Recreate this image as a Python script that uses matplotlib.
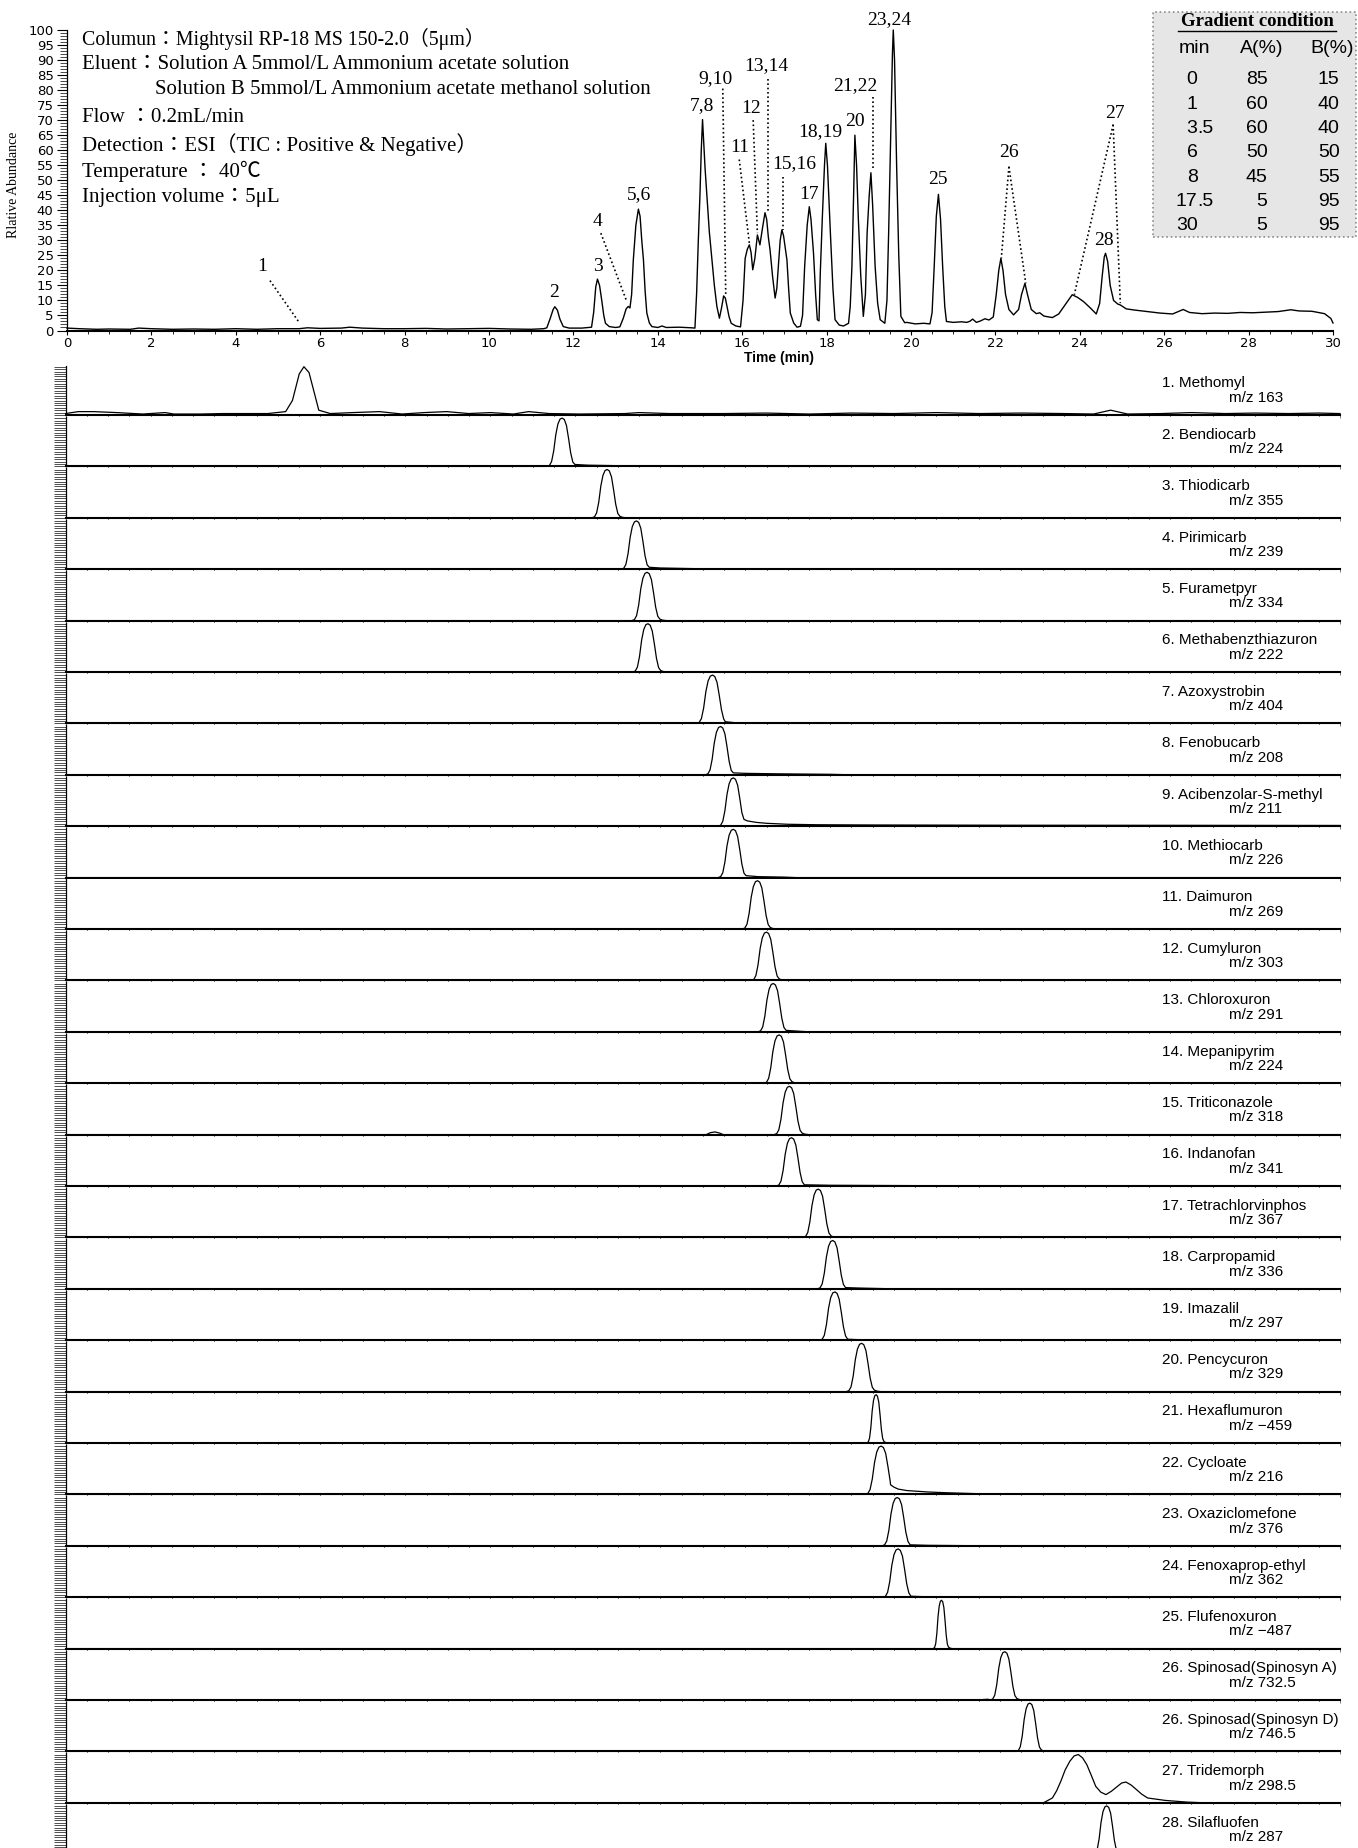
"""
LC/MS chromatogram of pesticides: TIC on top, single-ion traces below
"""
import numpy as np
import matplotlib.pyplot as plt
from matplotlib.patches import Rectangle
from matplotlib.lines import Line2D

W, H = 1358, 1848
SERIF = ['Liberation Serif', 'Noto Sans CJK JP']
SANS = ['Liberation Sans', 'Noto Sans CJK JP']

# ---- TIC trace (time min, relative abundance %)
tic_t = [0.0, 0.3, 0.7, 1.0, 1.5, 1.7, 2.0, 2.5, 3.0, 3.5, 4.0, 4.5, 5.0, 5.5, 5.7, 6.0,
         6.5, 6.7, 7.0, 7.5, 8.0, 8.5, 9.0, 9.5, 10.0, 10.5, 11.0, 11.3,
         11.37, 11.45, 11.52, 11.56, 11.62, 11.68, 11.76, 11.9, 12.2,
         12.43, 12.48, 12.53, 12.57, 12.62, 12.67, 12.72, 12.76, 12.85, 13.0,
         13.1, 13.18, 13.25, 13.30, 13.34, 13.38, 13.42, 13.48, 13.54, 13.58, 13.62,
         13.66, 13.70, 13.74, 13.80, 13.86, 14.0, 14.1, 14.2, 14.5, 14.8,
         14.88, 14.92, 14.96, 15.0, 15.03, 15.06, 15.09, 15.12, 15.16, 15.22, 15.28,
         15.34, 15.40, 15.46, 15.51, 15.56, 15.60, 15.64, 15.69, 15.74, 15.85, 15.96,
         16.02, 16.07, 16.12, 16.17, 16.21, 16.25, 16.30, 16.36, 16.42, 16.48, 16.54,
         16.58, 16.62, 16.66, 16.72, 16.78, 16.82, 16.86, 16.90, 16.94, 16.98, 17.02,
         17.06, 17.10, 17.14, 17.22, 17.30, 17.38, 17.43, 17.48, 17.54, 17.59, 17.63,
         17.69, 17.74, 17.78, 17.82, 17.85, 17.90, 17.95, 17.98, 18.02, 18.09, 18.15,
         18.20, 18.30, 18.40, 18.52, 18.56, 18.60, 18.64, 18.67, 18.71, 18.75, 18.81,
         18.87, 18.92, 18.96, 19.01, 19.05, 19.09, 19.15, 19.21, 19.27, 19.38, 19.43,
         19.47, 19.52, 19.56, 19.58, 19.61, 19.66, 19.71, 19.76, 19.85, 19.90, 20.1,
         20.3, 20.45, 20.50, 20.55, 20.60, 20.65, 20.70, 20.75, 20.80, 20.84, 21.0,
         21.2, 21.32, 21.40, 21.46, 21.55, 21.65, 21.75, 21.85, 21.95, 22.02, 22.08,
         22.13, 22.18, 22.24, 22.32, 22.43, 22.55, 22.62, 22.70, 22.76, 22.85, 22.97,
         23.05, 23.15, 23.35, 23.5, 23.65, 23.82, 23.95, 24.09, 24.25, 24.39, 24.47,
         24.53, 24.58, 24.61, 24.66, 24.72, 24.80, 24.90, 24.96, 25.1, 25.3, 25.6,
         25.9, 26.2, 26.45, 26.6, 26.9, 27.2, 27.5, 27.8, 28.1, 28.4, 28.7, 29.0,
         29.2, 29.5, 29.8, 29.95, 30.0]
tic_v = [0.8, 0.6, 0.4, 0.5, 0.4, 0.8, 0.6, 0.4, 0.5, 0.4, 0.6, 0.4, 0.6, 0.6, 0.9, 0.7,
         0.8, 1.1, 0.8, 0.6, 0.6, 0.7, 0.5, 0.6, 0.7, 0.5, 0.4, 0.6,
         0.9, 4.0, 7.0, 7.9, 6.8, 3.8, 1.3, 0.8, 0.8,
         1.1, 6.0, 14.5, 17.1, 15.0, 10.2, 5.0, 2.4, 1.3, 1.0,
         1.2, 4.0, 7.2, 8.0, 7.5, 12.0, 23.5, 35.0, 40.4, 38.0, 30.0,
         23.5, 13.0, 5.8, 2.5, 1.3, 1.0, 1.5, 1.0, 1.1, 0.9,
         0.8, 12.4, 30.0, 45.6, 60.0, 70.2, 62.0, 54.0, 45.6, 33.0, 24.0,
         15.0, 8.0, 4.1, 7.5, 11.5, 10.8, 8.0, 4.5, 2.4, 1.5, 1.2,
         10.0, 24.0, 27.0, 28.5, 26.0, 20.2, 24.0, 31.8, 28.5, 34.0, 39.2,
         37.0, 31.0, 26.8, 18.0, 10.8, 14.0, 22.0, 30.0, 33.5, 31.5, 27.5,
         23.5, 14.0, 5.8, 2.5, 1.1, 1.4, 5.0, 21.3, 35.0, 41.2, 37.0,
         25.7, 12.0, 3.6, 3.2, 19.0, 38.0, 55.0, 62.3, 55.0, 32.4, 14.0,
         3.6, 1.8, 1.5, 2.4, 8.0, 21.3, 45.0, 65.0, 55.0, 37.9, 18.0,
         4.7, 12.0, 32.4, 45.0, 52.5, 42.0, 21.3, 9.0, 3.6, 2.4, 10.0,
         32.4, 65.0, 92.0, 100.0, 90.0, 54.5, 25.0, 4.7, 2.6, 2.7, 2.2,
         2.4, 2.2, 6.0, 21.3, 38.0, 45.3, 37.0, 21.3, 8.0, 3.0, 2.7,
         2.9, 2.7, 3.1, 3.8, 2.7, 3.2, 3.9, 3.5, 4.5, 12.0, 20.0,
         24.0, 20.0, 12.0, 7.0, 5.2, 7.0, 12.0, 15.7, 12.0, 7.0, 5.6,
         5.9, 4.8, 4.3, 5.5, 8.5, 11.9, 11.0, 9.6, 7.5, 5.5, 9.0,
         18.0, 24.5, 25.7, 23.0, 15.0, 10.0, 8.8, 8.5, 7.2, 6.8, 6.3,
         5.8, 5.5, 7.0, 6.0, 5.6, 5.8, 5.7, 6.0, 5.9, 6.1, 6.3, 6.9,
         6.5, 6.4, 5.6, 4.0, 2.5]

# peak labels on the TIC: text, time, abundance
peak_labels = ["1", "2", "3", "4", "5,6", "7,8", "9,10", "11", "12", "13,14",
               "15,16", "17", "18,19", "20", "21,22", "23,24", "25", "26", "27", "28"]
peak_label_t = [4.63, 11.55, 12.57, 12.57, 13.56, 15.04, 15.36, 15.93, 16.22, 16.58,
                17.23, 17.58, 17.84, 18.67, 18.67, 19.49, 20.63, 22.32, 24.83, 24.57]
peak_label_v = [21.3, 12.6, 21.3, 36.2, 45.1, 75.0, 83.8, 60.9, 73.9, 88.3,
                55.6, 45.1, 66.1, 69.4, 81.6, 103.6, 50.3, 59.3, 72.2, 29.9]

# dotted leader lines (t0, v0, t1, v1)
leaders = [(4.81, 16.6, 5.5, 2.7), (12.65, 32.4, 13.25, 10.2), (15.54, 80.5, 15.61, 11.9),
           (15.93, 56.9, 16.17, 29.0), (16.26, 70.0, 16.36, 32.4), (16.60, 83.8, 16.60, 39.5),
           (16.96, 51.2, 16.96, 33.5), (19.11, 77.7, 19.11, 54.0),
           (22.32, 54.5, 22.14, 24.0), (22.32, 54.5, 22.72, 15.7),
           (24.79, 68.5, 23.87, 11.9), (24.79, 68.5, 24.96, 9.1)]

info_lines = ["Columun：Mightysil RP-18 MS 150-2.0（5μm）",
              "Eluent：Solution A 5mmol/L Ammonium acetate solution",
              "Solution B 5mmol/L Ammonium acetate methanol solution",
              "Flow ：0.2mL/min",
              "Detection：ESI（TIC : Positive & Negative）",
              "Temperature ： 40℃",
              "Injection volume：5μL"]
info_x = [82, 82, 155, 82, 82, 82, 82]
info_y = [38.5, 64.5, 89.5, 117, 144.5, 171, 197.5]
info_size = [14.3, 15, 15, 15, 15, 15, 15]

grad_min = ["0", "1", "3.5", "6", "8", "17.5", "30"]
grad_a = ["85", "60", "60", "50", "45", "5", "5"]
grad_b = ["15", "40", "40", "50", "55", "95", "95"]

# ---- single ion traces
names = ["1. Methomyl", "2. Bendiocarb", "3. Thiodicarb", "4. Pirimicarb", "5. Furametpyr",
         "6. Methabenzthiazuron", "7. Azoxystrobin", "8. Fenobucarb",
         "9. Acibenzolar-S-methyl", "10. Methiocarb", "11. Daimuron", "12. Cumyluron",
         "13. Chloroxuron", "14. Mepanipyrim", "15. Triticonazole", "16. Indanofan",
         "17. Tetrachlorvinphos", "18. Carpropamid", "19. Imazalil", "20. Pencycuron",
         "21. Hexaflumuron", "22. Cycloate", "23. Oxaziclomefone", "24. Fenoxaprop-ethyl",
         "25. Flufenoxuron", "26. Spinosad(Spinosyn A)", "26. Spinosad(Spinosyn D)",
         "27. Tridemorph", "28. Silafluofen"]
mz = ["163", "224", "355", "239", "334", "222", "404", "208", "211", "226", "269", "303",
      "291", "224", "318", "341", "367", "336", "297", "329", "\u2212459", "216", "376",
      "362", "\u2212487", "732.5", "746.5", "298.5", "287"]
rt = [5.61, 11.69, 12.75, 13.44, 13.69, 13.71, 15.23, 15.42, 15.72, 15.72, 16.29, 16.50,
      16.66, 16.80, 17.04, 17.09, 17.72, 18.06, 18.11, 18.74, 19.08, 19.20, 19.58, 19.60,
      20.62, 22.11, 22.70, 23.84, 24.51]
width = [1.0, 1.0, 1.0, 1.0, 1.0, 1.0, 1.05, 1.0, 1.0, 1.0, 1.0, 1.0,
         1.0, 1.0, 1.0, 1.0, 1.0, 1.0, 1.0, 1.0, 0.62, 1.05, 1.0, 1.0,
         0.55, 0.95, 0.9, 1.0, 0.9]

# traced peak shape (offset from apex in min, % of apex)
profile_dt = [-0.36, -0.30, -0.25, -0.20, -0.15, -0.10, -0.05, 0.0, 0.05, 0.10, 0.15,
              0.20, 0.25, 0.30, 0.36, 0.45]
profile_y = [0, 2, 10, 32, 66, 88, 98, 100, 97, 85, 58, 28, 9, 3, 1, 0]

# extra features (tails, small side bumps) per trace index
extras = {
    1: [(11.99, 4), (12.3, 2.5), (13.0, 1.5), (13.9, 1), (14.4, 0)],
    3: [(13.74, 4), (14.0, 2.5), (14.6, 1.5), (15.2, 0.5), (15.6, 0)],
    6: [(15.53, 3.5), (15.75, 1.5), (16.0, 0)],
    7: [(15.72, 4), (16.0, 3), (16.8, 2), (18.0, 1), (18.5, 0)],
    8: [(15.97, 14), (16.05, 11), (16.25, 8), (16.5, 6), (17.0, 4), (17.7, 3),
        (19.0, 2.5), (22.0, 2), (26.0, 1.8), (30.0, 1.5)],
    9: [(16.02, 4), (16.3, 2), (16.9, 1), (17.2, 0)],
    12: [(16.96, 3), (17.3, 1), (17.5, 0)],
    14: [(15.08, 0), (15.18, 4), (15.29, 5.5), (15.4, 3), (15.48, 0)],
    15: [(17.39, 2.5), (18.0, 1.5), (20.7, 0.5), (21.0, 0)],
    17: [(18.36, 2.5), (18.7, 1.5), (19.2, 0.5), (19.5, 0)],
    18: [(18.41, 2), (18.7, 1), (19.0, 0)],
    21: [(19.42, 20), (19.5, 15), (19.6, 11), (19.8, 8), (19.96, 7), (20.3, 5),
         (20.74, 3.4), (21.5, 1.4), (22.3, 0.5), (23.0, 0)],
    22: [(19.88, 2), (20.3, 1), (21.0, 0.5), (21.5, 0)],
    23: [(19.9, 2), (20.3, 0.8), (20.6, 0)],
    25: [(21.45, 0), (21.6, 1.0), (21.72, 1.5)],
}

methomyl_t = [0.0, 0.3, 0.66, 1.2, 1.82, 2.34, 2.55, 3.18, 3.7, 4.24, 4.76, 5.18, 5.34, 5.5,
              5.61, 5.73, 5.86, 5.96, 6.23, 6.76, 7.39, 7.92, 8.44, 8.97, 9.49, 10.0, 10.54,
              10.9, 11.38, 12.1, 13.17, 13.5, 14.2, 14.9, 15.5, 16.5, 17.5, 18.5, 19.5, 20.5,
              21.5, 22.5, 23.5, 24.2, 24.45, 24.6, 24.8, 25.0, 25.8, 26.5, 27.3, 28.0, 28.8,
              29.5, 30.0]
methomyl_y = [3, 7, 7, 5, 2, 5, 2, 2, 3, 3, 3, 7, 30, 85, 100, 88, 44, 10, 3, 5, 7, 2, 5, 7,
              3, 5, 2, 7, 3, 2, 3, 5, 3, 3, 3, 4, 2, 4, 3, 5, 3, 4, 3, 2, 7, 10, 6, 2, 3, 5,
              3, 4, 3, 4, 3]

tridemorph_t = [0.0, 23.02, 23.23, 23.33, 23.43, 23.53, 23.64, 23.74, 23.84, 23.94, 24.04,
                24.14, 24.25, 24.37, 24.49, 24.62, 24.76, 24.86, 24.96, 25.08, 25.2, 25.33,
                25.47, 25.88, 26.39, 26.8, 30.0]
tridemorph_y = [0, 0, 10, 25, 45, 68, 86, 97, 100, 93, 79, 58, 34, 22, 17, 24, 34, 41, 43,
                37, 28, 18, 10, 5, 1.5, 0, 0]


def fx(px):
    return px / W


def fy(py):
    return 1 - py / H


def trace(i):
    if i == 0:
        return methomyl_t, methomyl_y
    if i == 27:
        return tridemorph_t, tridemorph_y
    pts = [(rt[i] + width[i] * d, y) for d, y in zip(profile_dt, profile_y)]
    ext = extras.get(i, [])
    pre = [p for p in ext if p[0] < rt[i]]
    post = [p for p in ext if p[0] > rt[i]]
    if pre:
        pts = [p for p in pts if p[0] > pre[-1][0]]
    if post:
        pts = [p for p in pts if p[0] < post[0][0]]
    pts = sorted(pre + pts + post)
    if pts[0][0] > 0:
        pts = [(0.0, 0)] + pts
    if pts[-1][0] < 30:
        pts = pts + [(30.0, 0)]
    return [p[0] for p in pts], [p[1] for p in pts]


fig = plt.figure(figsize=(W / 100, H / 100), dpi=100)

# ---------------- TIC panel
ax = fig.add_axes([fx(67), fy(330.5), fx(1266), 300.5 / H])
ax.plot(tic_t, tic_v, color='black', lw=1.0, clip_on=False)
ax.set_xlim(0, 30)
ax.set_ylim(0, 100)
ax.set_xticks(np.arange(0, 31, 2))
ax.set_xticks(np.arange(0, 30.01, 0.5), minor=True)
ax.set_yticks(np.arange(0, 101, 5))
ax.set_yticks(np.arange(0, 101, 1), minor=True)
ax.tick_params(axis='y', which='major', length=7.2, width=0.8, pad=2.5, labelsize=9.5)
ax.tick_params(axis='y', which='minor', length=5, width=0.5)
ax.tick_params(axis='x', which='major', length=3, width=0.8, pad=1.5, labelsize=9.5)
ax.tick_params(axis='x', which='minor', length=2.2, width=0.6)
for s in ['top', 'right']:
    ax.spines[s].set_visible(False)
ax.spines['bottom'].set_linewidth(1.5)
ax.spines['left'].set_linewidth(0.9)

for s, t, v in zip(peak_labels, peak_label_t, peak_label_v):
    ax.text(t, v, s, ha='center', va='center', family=SERIF, fontsize=14, clip_on=False)
for t0, v0, t1, v1 in leaders:
    ax.plot([t0, t1], [v0, v1], color='black', lw=1.2, ls=(0, (1, 1.6)), clip_on=False)

fig.text(fx(779), fy(358), "Time (min)", ha='center', va='center', family=SANS,
         fontsize=10, weight='bold')
fig.text(fx(14), fy(185), "Rlative Abundance", rotation=90, ha='center', va='center',
         family=SERIF, fontsize=10)

for s, x, y, fs in zip(info_lines, info_x, info_y, info_size):
    fig.text(fx(x), fy(y), s, ha='left', va='center', family=SERIF, fontsize=fs)

# gradient table
box = Rectangle((fx(1152.7), fy(236.7)), fx(203.3), 225 / H, transform=fig.transFigure,
                facecolor='#e6e6e6', edgecolor='#8c8c8c', lw=1.2, ls=':', zorder=5)
fig.patches.append(box)
fig.text(fx(1257), fy(22), "Gradient condition", ha='center', va='center', family=SERIF,
         fontsize=13.5, weight='bold', zorder=6)
fig.add_artist(Line2D([fx(1178), fx(1336)], [fy(30.5), fy(30.5)], color='black', lw=1.0,
                      zorder=6))
for s, x in zip(["min", "A(%)", "B(%)"], [1194, 1262, 1332]):
    fig.text(fx(x), fy(48.5), s, ha='center', va='center', family=SANS, fontsize=14,
             zorder=6)
row_y = [80, 104.3, 128.5, 152.7, 177, 201.5, 226]
for m, a, b, y in zip(grad_min, grad_a, grad_b, row_y):
    whole, _, frac = m.partition('.')
    fig.text(fx(1197.5), fy(y), whole, ha='right', va='center', family=SANS, fontsize=14,
             zorder=6)
    if frac:
        fig.text(fx(1197.5), fy(y), '.' + frac, ha='left', va='center', family=SANS,
                 fontsize=14, zorder=6)
    fig.text(fx(1267.5), fy(y), a, ha='right', va='center', family=SANS, fontsize=14,
             zorder=6)
    fig.text(fx(1339.5), fy(y), b, ha='right', va='center', family=SANS, fontsize=14,
             zorder=6)

# ---------------- single ion panels
pitch = 51.4
for i in range(len(names)):
    base = 415 + i * pitch
    a = fig.add_axes([fx(65.6), fy(base), fx(1274.4), 49.5 / H])
    t, y = trace(i)
    a.plot(t, y, color='black', lw=0.9, clip_on=False)
    a.set_xlim(0, 30)
    a.set_ylim(0, 102.5)
    a.set_xticks(np.arange(0, 30.01, 0.5))
    a.set_yticks(np.arange(0, 101, 5))
    a.tick_params(axis='y', length=8.6, width=0.6, color='#333333', labelleft=False)
    a.tick_params(axis='x', length=1.8, width=0.6, color='#666666', labelbottom=False)
    for s in ['top', 'right']:
        a.spines[s].set_visible(False)
    a.spines['bottom'].set_linewidth(1.5)
    a.spines['left'].set_linewidth(0.9)
    fig.text(fx(1161.7), fy(base - 31.6), names[i], ha='left', va='center', family=SANS,
             fontsize=11)
    fig.text(fx(1229), fy(base - 17.2), "m/z " + mz[i], ha='left', va='center',
             family=SANS, fontsize=11)

fig.savefig('out.png', dpi=100)
